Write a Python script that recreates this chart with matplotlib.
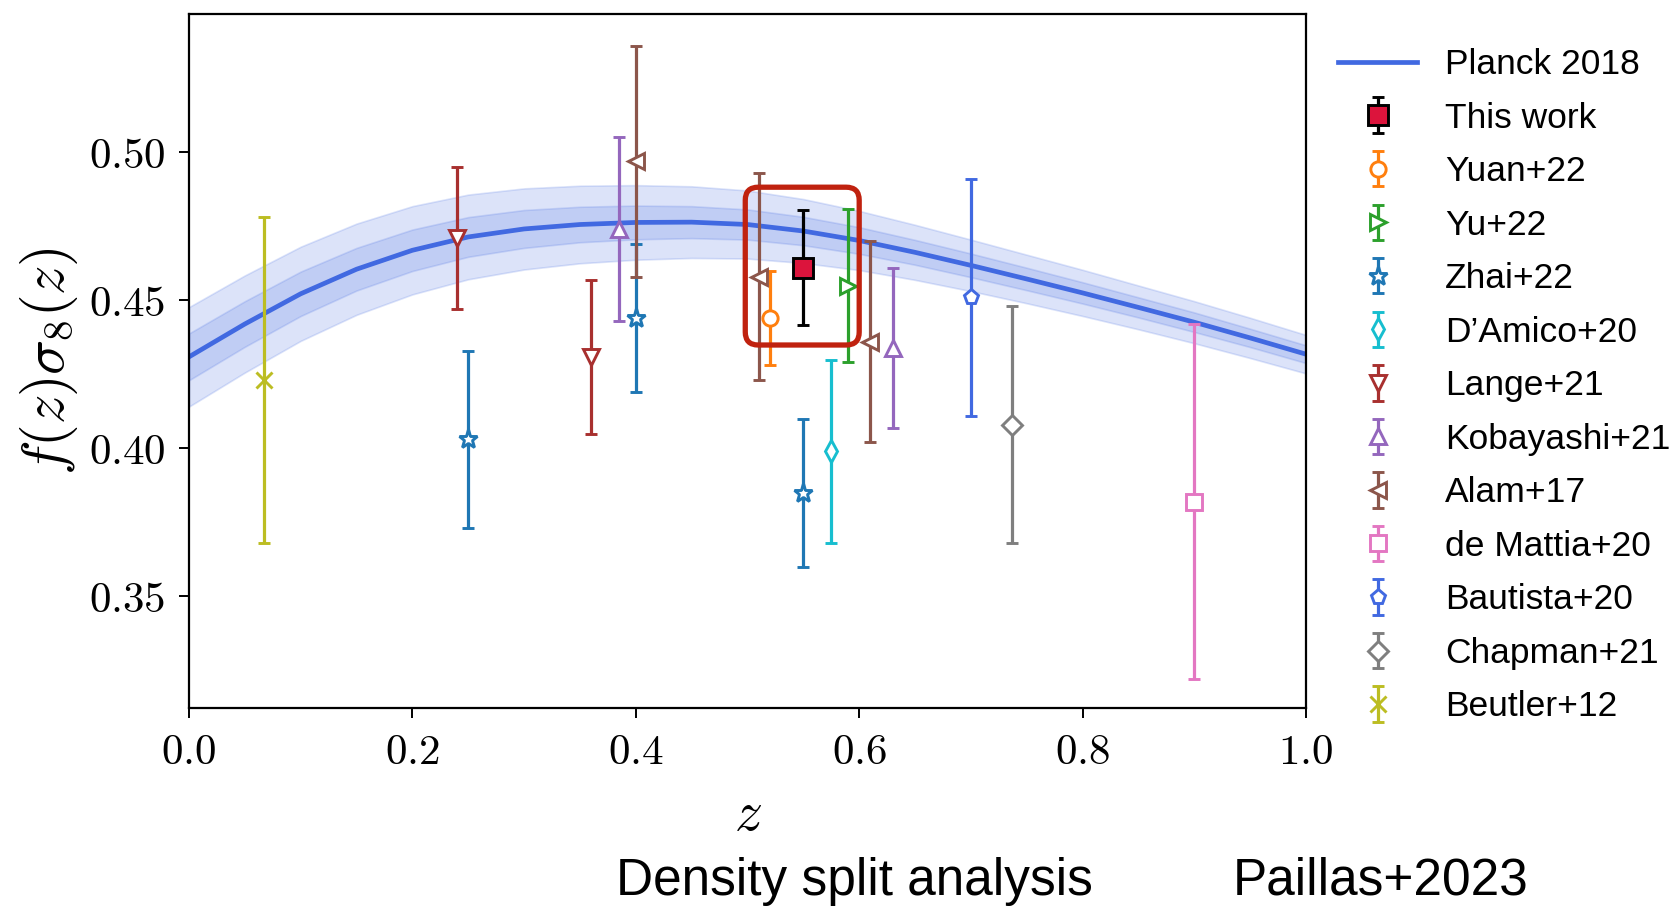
import numpy as np
import matplotlib
matplotlib.use("Agg")
import matplotlib.pyplot as plt
from matplotlib.patches import FancyBboxPatch

plt.rcParams['mathtext.fontset'] = 'cm'
plt.rcParams['font.family'] = ['Liberation Sans', 'DejaVu Sans']

# ---------------- data ----------------
planck_z = [0.00, 0.05, 0.10, 0.15, 0.20, 0.25, 0.30, 0.35, 0.40, 0.45, 0.50,
            0.55, 0.60, 0.65, 0.70, 0.75, 0.80, 0.85, 0.90, 0.95, 1.00]
planck_fs8 = [0.4309, 0.4420, 0.4522, 0.4605, 0.4669, 0.4714, 0.4741, 0.4756,
              0.4763, 0.4764, 0.4756, 0.4734, 0.4702, 0.4662, 0.4618, 0.4572,
              0.4525, 0.4476, 0.4426, 0.4373, 0.4318]
planck_sig1 = [0.0079, 0.0077, 0.0075, 0.0072, 0.0070, 0.0067, 0.0064, 0.0060,
               0.0057, 0.0054, 0.0051, 0.0048, 0.0045, 0.0042, 0.0040, 0.0038,
               0.0036, 0.0034, 0.0033, 0.0031, 0.0030]
planck_sig2 = [0.0168, 0.0164, 0.0159, 0.0154, 0.0149, 0.0143, 0.0137, 0.0131,
               0.0126, 0.0121, 0.0115, 0.0108, 0.0100, 0.0093, 0.0087, 0.0082,
               0.0078, 0.0074, 0.0071, 0.0068, 0.0065]

this_z, this_f, this_e = [0.55], [0.461], [0.0195]
yuan_z, yuan_f, yuan_e = [0.52], [0.444], [0.016]
yu_z, yu_f, yu_e = [0.59], [0.455], [0.026]
zhai_z, zhai_f, zhai_e = [0.25, 0.40, 0.55], [0.403, 0.444, 0.385], [0.030, 0.025, 0.025]
damico_z, damico_f, damico_e = [0.575], [0.399], [0.031]
lange_z, lange_f, lange_e = [0.24, 0.36], [0.471, 0.431], [0.024, 0.026]
koba_z, koba_f, koba_e = [0.385, 0.63], [0.474, 0.434], [0.031, 0.027]
alam_z, alam_f, alam_e = [0.40, 0.51, 0.61], [0.497, 0.458, 0.436], [0.039, 0.035, 0.034]
demattia_z, demattia_f, demattia_e = [0.90], [0.382], [0.060]
bautista_z, bautista_f, bautista_e = [0.70], [0.451], [0.040]
chapman_z, chapman_f, chapman_e = [0.737], [0.408], [0.040]
beutler_z, beutler_f, beutler_e = [0.067], [0.423], [0.055]

highlight_box = [0.498, 0.4349, 0.600, 0.4882]  # x0, y0, x1, y1

xticks = [0.0, 0.2, 0.4, 0.6, 0.8, 1.0]
xtick_labels = [r'$0.0$', r'$0.2$', r'$0.4$', r'$0.6$', r'$0.8$', r'$1.0$']
yticks = [0.35, 0.40, 0.45, 0.50]
ytick_labels = [r'$0.35$', r'$0.40$', r'$0.45$', r'$0.50$']

# ---------------- figure ----------------
W, H = 1681, 907
fig = plt.figure(figsize=(W / 100, H / 100), dpi=100)
ax = fig.add_axes([189 / W, 1 - 708 / H, (1306 - 189) / W, (708 - 14) / H])

pz = np.array(planck_z)
pf = np.array(planck_fs8)
s1 = np.array(planck_sig1)
s2 = np.array(planck_sig2)
band_c = 'royalblue'
ax.fill_between(pz, pf - s2, pf + s2, color=band_c, alpha=0.18, lw=1.2, zorder=1)
ax.fill_between(pz, pf - s1, pf + s1, color=band_c, alpha=0.18, lw=1.2, zorder=1)
ax.plot(pz, pf, color=band_c, lw=3.4, label='Planck 2018', zorder=2,
        solid_joinstyle='round')

common = dict(ls='none', elinewidth=2.3, capsize=4.5, capthick=2.3,
              markeredgewidth=2.1, markersize=11, zorder=3)

series = [
    (this_z, this_f, this_e, 's', 'black', 'This work'),
    (yuan_z, yuan_f, yuan_e, 'o', 'tab:orange', 'Yuan+22'),
    (yu_z, yu_f, yu_e, '>', 'tab:green', 'Yu+22'),
    (zhai_z, zhai_f, zhai_e, '*', 'tab:blue', 'Zhai+22'),
    (damico_z, damico_f, damico_e, 'd', 'tab:cyan', "D’Amico+20"),
    (lange_z, lange_f, lange_e, 'v', '#a8302f', 'Lange+21'),
    (koba_z, koba_f, koba_e, '^', 'tab:purple', 'Kobayashi+21'),
    (alam_z, alam_f, alam_e, '<', 'tab:brown', 'Alam+17'),
    (demattia_z, demattia_f, demattia_e, 's', 'tab:pink', 'de Mattia+20'),
    (bautista_z, bautista_f, bautista_e, 'p', 'royalblue', 'Bautista+20'),
    (chapman_z, chapman_f, chapman_e, 'D', 'tab:gray', 'Chapman+21'),
    (beutler_z, beutler_f, beutler_e, 'x', 'tab:olive', 'Beutler+12'),
]

for z, f, e, m, c, lab in series:
    kw = dict(common)
    if lab == 'This work':
        kw.update(markerfacecolor='crimson', markeredgecolor='black',
                  markersize=14, zorder=5)
    elif m == 'x':
        kw.update(markerfacecolor=c, markeredgecolor=c)
    else:
        kw.update(markerfacecolor='white', markeredgecolor=c)
        if m == '*':
            kw.update(markersize=14)
        if m == 'D':
            kw.update(markersize=10)
    ax.errorbar(z, f, yerr=e, fmt=m, color=c, ecolor=c, label=lab, **kw)

# highlight box
x0, y0, x1, y1 = highlight_box
px = 1 / 1117.0
py = 0.05 / (138 * 1.072)
box = FancyBboxPatch((x0, y0), x1 - x0, y1 - y0,
                     boxstyle=f"round,pad=0,rounding_size={13 * px}",
                     mutation_aspect=py / px,
                     fill=False, edgecolor='#c0220f', lw=3.8, zorder=6)
ax.add_patch(box)

ax.set_xlim(0.0, 1.0)
ax.set_ylim(0.3123, 0.5467)
ax.set_xticks(xticks)
ax.set_xticklabels(xtick_labels, fontsize=31)
ax.set_yticks(yticks)
ax.set_yticklabels(ytick_labels, fontsize=31)
ax.tick_params(direction='out', length=7, width=1.4)
ax.tick_params(axis='x', pad=11)
ax.tick_params(axis='y', pad=10)
for sp in ax.spines.values():
    sp.set_linewidth(1.6)

ax.set_xlabel(r'$z$', fontsize=40, labelpad=12)
ax.set_ylabel(r'$f(z)\sigma_8(z)$', fontsize=42, labelpad=6)

leg = ax.legend(loc='upper left', bbox_to_anchor=(1338 / W, 1 - 48 / H),
                bbox_transform=fig.transFigure, frameon=False, fontsize=25.5,
                borderpad=0, borderaxespad=0, labelspacing=0.58,
                handlelength=2.24, handletextpad=0.78)

fig.text(616 / W, 1 - 881 / H, 'Density split analysis', fontsize=37,
         ha='left', va='center')
fig.text(1233 / W, 1 - 881 / H, 'Paillas+2023', fontsize=37,
         ha='left', va='center')

fig.savefig('out.png', dpi=100)
